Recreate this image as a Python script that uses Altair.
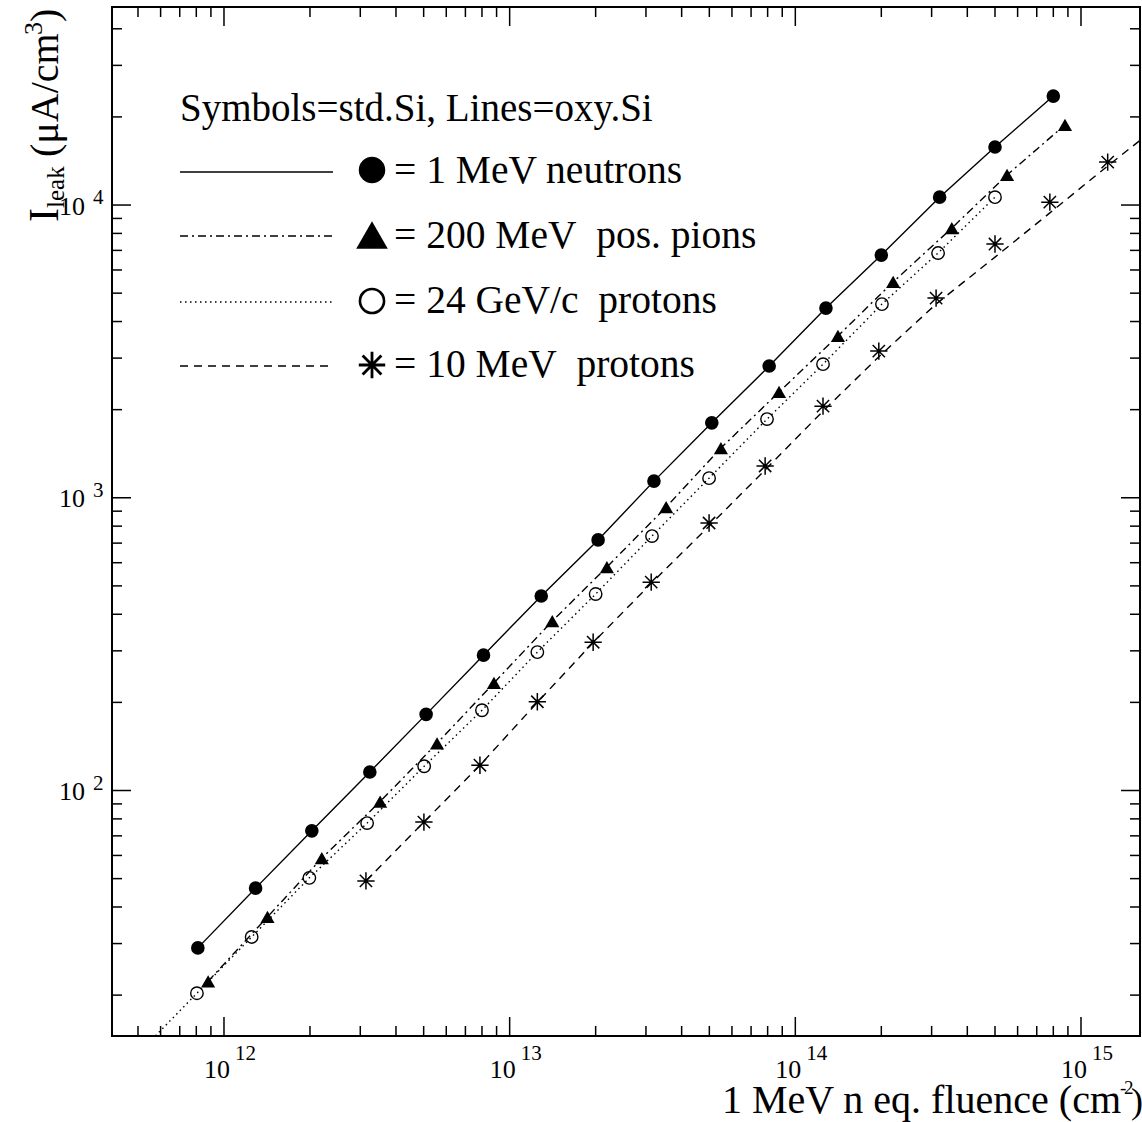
import altair as alt
import pandas as pd

W, H = 1028, 1029
FONT = "Liberation Serif"

# ---------------- data ----------------
# std. Si symbols
neut_x = [8.1e11, 1.29e12, 2.03e12, 3.24e12, 5.1e12, 8.1e12, 1.29e13, 2.04e13,
          3.2e13, 5.1e13, 8.1e13, 1.28e14, 2.0e14, 3.2e14, 5.0e14, 8.0e14]
neut_y = [29.0, 46.4, 72.8, 115.7, 182, 290, 462, 718,
          1140, 1803, 2818, 4446, 6745, 10640, 15780, 23560]

pion_x = [8.8e11, 1.42e12, 2.20e12, 3.52e12, 5.57e12, 8.81e12, 1.41e13, 2.19e13,
          3.53e13, 5.49e13, 8.77e13, 1.41e14, 2.20e14, 3.53e14, 5.51e14, 8.79e14]
pion_y = [22.3, 37.0, 58.7, 91.7, 145, 233, 379, 580,
          929, 1479, 2298, 3572, 5460, 8340, 12670, 18780]

p24_x = [8.04e11, 1.25e12, 1.99e12, 3.17e12, 5.02e12, 8.0e12, 1.25e13, 2.0e13,
         3.15e13, 4.99e13, 7.96e13, 1.25e14, 2.01e14, 3.16e14, 5.0e14]
p24_y = [20.3, 31.6, 50.3, 77.4, 121, 188, 297, 469,
         740, 1167, 1857, 2860, 4587, 6855, 10640]

p10_x = [3.14e12, 5.01e12, 7.87e12, 1.25e13, 1.96e13, 3.13e13, 4.99e13,
         7.84e13, 1.25e14, 1.96e14, 3.11e14, 5.0e14, 7.78e14, 1.24e15]
p10_y = [49.1, 78.0, 122, 201, 321, 515, 820,
         1284, 2056, 3170, 4810, 7360, 10230, 14020]

# oxy. Si lines
oxy_neut_x = [8.1e11, 1.29e12, 2.03e12, 3.24e12, 5.1e12, 8.1e12, 1.29e13, 2.04e13,
              3.2e13, 5.1e13, 8.1e13, 1.28e14, 2.0e14, 3.2e14, 5.0e14, 8.0e14]
oxy_neut_y = [29.0, 46.4, 72.8, 115.7, 182, 290, 462, 718,
              1140, 1803, 2818, 4446, 6745, 10640, 15780, 23560]

oxy_pion_x = [8.8e11, 1.42e12, 2.20e12, 3.52e12, 5.57e12, 8.81e12, 1.41e13, 2.19e13,
              3.53e13, 5.49e13, 8.77e13, 1.41e14, 2.20e14, 3.53e14, 5.51e14, 8.79e14]
oxy_pion_y = [22.3, 37.0, 58.7, 91.7, 145, 233, 379, 580,
              929, 1479, 2298, 3572, 5460, 8340, 12670, 18780]

oxy_p24_x = [5.0e11, 8.04e11, 1.25e12, 1.99e12, 3.17e12, 5.02e12, 8.0e12, 1.25e13,
             2.0e13, 3.15e13, 4.99e13, 7.96e13, 1.25e14, 2.01e14, 3.16e14, 5.0e14]
oxy_p24_y = [12.6, 20.3, 31.6, 50.3, 77.4, 121, 188, 297,
             469, 740, 1167, 1857, 2860, 4587, 6855, 10640]

oxy_p10_x = [3.14e12, 5.01e12, 7.87e12, 1.25e13, 1.96e13, 3.13e13, 4.99e13, 7.84e13,
             1.25e14, 1.96e14, 3.11e14, 5.0e14, 7.78e14, 1.24e15, 2.61e15]
oxy_p10_y = [49.1, 78.0, 122, 200, 320, 510, 800, 1245,
             1977, 3030, 4590, 6640, 9400, 13600, 24150]

# axis ticks and labels
x_major = [1e12, 1e13, 1e14, 1e15]
x_exp = ["12", "13", "14", "15"]
x_minor = [5e11, 6e11, 7e11, 8e11, 9e11,
           2e12, 3e12, 4e12, 5e12, 6e12, 7e12, 8e12, 9e12,
           2e13, 3e13, 4e13, 5e13, 6e13, 7e13, 8e13, 9e13,
           2e14, 3e14, 4e14, 5e14, 6e14, 7e14, 8e14, 9e14]
y_major = [1e2, 1e3, 1e4]
y_exp = ["2", "3", "4"]
y_minor = [20, 30, 40, 50, 60, 70, 80, 90,
           200, 300, 400, 500, 600, 700, 800, 900,
           2000, 3000, 4000, 5000, 6000, 7000, 8000, 9000,
           20000, 30000, 40000]

legend_head = "Symbols=std.Si, Lines=oxy.Si"
legend_text = ["= 1 MeV neutrons",
               "= 200 MeV\u00a0 pos. pions",
               "= 24 GeV/c\u00a0 protons",
               "= 10 MeV\u00a0 protons"]

# ---------------- scales ----------------
xs = alt.Scale(type="log", domain=[4.055e11, 1.609e15], nice=False)
ys = alt.Scale(type="log", domain=[14.5, 47480], nice=False)
X = alt.X("x:Q", scale=xs, axis=None)
Y = alt.Y("y:Q", scale=ys, axis=None)

STAR = "M0,-1L0,1M-1,0L1,0M-0.71,-0.71L0.71,0.71M-0.71,0.71L0.71,-0.71"
DASHDOT = [8, 4, 2, 4]
DOTTED = [1.5, 3.5]
DASHED = [8, 6]

def frame(x, y):
    return pd.DataFrame({"x": x, "y": y})

def line(x, y, dash=None, width=1.4):
    kw = dict(color="black", strokeWidth=width, clip=True)
    if dash:
        kw["strokeDash"] = dash
    return alt.Chart(frame(x, y)).mark_line(**kw).encode(x=X, y=Y)

def pts(x, y, **mk):
    return alt.Chart(frame(x, y)).mark_point(clip=True, color="black", opacity=1, **mk).encode(x=X, y=Y)

layers = []

# ticks (inward, on all four sides)
TW = 1.5
for vals, ln in ((x_major, 19), (x_minor, 10)):
    d = pd.DataFrame({"x": vals})
    layers.append(alt.Chart(d).mark_rule(color="black", strokeWidth=TW).encode(
        x=X, y=alt.value(H), y2=alt.value(H - ln)))
    layers.append(alt.Chart(d).mark_rule(color="black", strokeWidth=TW).encode(
        x=X, y=alt.value(0), y2=alt.value(ln)))
for vals, ln in ((y_major, 19), (y_minor, 10)):
    d = pd.DataFrame({"y": vals})
    layers.append(alt.Chart(d).mark_rule(color="black", strokeWidth=TW).encode(
        y=Y, x=alt.value(0), x2=alt.value(ln)))
    layers.append(alt.Chart(d).mark_rule(color="black", strokeWidth=TW).encode(
        y=Y, x=alt.value(W), x2=alt.value(W - ln)))

# tick labels 10^n
xl = pd.DataFrame({"x": x_major, "e": x_exp})
layers.append(alt.Chart(xl).mark_text(font=FONT, fontSize=26, align="center", baseline="alphabetic",
                                      dx=-7, text="10").encode(x=X, y=alt.value(1071)))
layers.append(alt.Chart(xl).mark_text(font=FONT, fontSize=21, align="left", baseline="alphabetic",
                                      dx=11).encode(x=X, y=alt.value(1053), text="e:N"))
yl = pd.DataFrame({"y": y_major, "e": y_exp})
layers.append(alt.Chart(yl).mark_text(font=FONT, fontSize=26, align="right", baseline="alphabetic",
                                      dy=9.5, text="10").encode(y=Y, x=alt.value(-27)))
layers.append(alt.Chart(yl).mark_text(font=FONT, fontSize=21, align="left", baseline="alphabetic",
                                      dy=-1).encode(y=Y, x=alt.value(-19), text="e:N"))

# oxy Si lines
layers.append(line(oxy_neut_x, oxy_neut_y))
layers.append(line(oxy_pion_x, oxy_pion_y, DASHDOT))
layers.append(line(oxy_p24_x, oxy_p24_y, DOTTED))
layers.append(line(oxy_p10_x, oxy_p10_y, DASHED))

# std Si symbols
layers.append(pts(neut_x, neut_y, shape="circle", filled=True, size=185))
layers.append(pts(pion_x, pion_y, shape="triangle-up", filled=True, size=200))
layers.append(pts(p24_x, p24_y, shape="circle", filled=False, size=155, strokeWidth=1.4))
layers.append(pts(p10_x, p10_y, shape=STAR, filled=False, size=300, strokeWidth=1.5))

# axis titles
one = pd.DataFrame({"a": [0]})
def txt(s, x, y, size, align="left", angle=0):
    kw = dict(font=FONT, fontSize=size, align=align, baseline="alphabetic", text=s, color="black")
    if angle:
        kw["angle"] = angle
    return alt.Chart(one).mark_text(**kw).encode(x=alt.value(x), y=alt.value(y))

layers.append(txt("1 MeV n eq. fluence (cm", 1009, 1106, 40, align="right"))
layers.append(txt("-", 1008, 1087, 19))
layers.append(txt("2", 1012, 1087, 19))
layers.append(txt(")", 1019, 1106, 36))

layers.append(txt("I", -54, 215, 42, angle=270))
layers.append(txt("leak", -48, 201, 25, angle=270))
layers.append(txt("(\u03bcA/cm", -54, 150, 40, angle=270))
layers.append(txt("3", -70, 28, 26, angle=270))
layers.append(txt(")", -54, 15, 40, angle=270))

# legend
layers.append(txt(legend_head, 68, 114, 39))
row_line_y = [165, 229, 295, 359]
row_sym_y = [163, 228, 294, 358]
row_txt_y = [176, 241, 306, 370]
dashes = [None, DASHDOT, DOTTED, DASHED]
syms = [dict(shape="circle", filled=True, size=700),
        dict(shape="triangle-up", filled=True, size=1000),
        dict(shape="circle", filled=False, size=580, strokeWidth=2.6),
        dict(shape=STAR, filled=False, size=700, strokeWidth=2.8)]
for i in range(4):
    kw = dict(color="black", strokeWidth=1.4)
    if dashes[i]:
        kw["strokeDash"] = dashes[i]
    layers.append(alt.Chart(one).mark_rule(**kw).encode(
        x=alt.value(68), x2=alt.value(221), y=alt.value(row_line_y[i])))
    layers.append(alt.Chart(one).mark_point(color="black", opacity=1, **syms[i]).encode(
        x=alt.value(260), y=alt.value(row_sym_y[i])))
    layers.append(txt(legend_text[i], 282, row_txt_y[i], 39.5))

chart = alt.layer(*layers).properties(
    width=W, height=H,
    autosize=alt.AutoSizeParams(type="none"),
    padding={"left": 112, "top": 7, "right": 2, "bottom": 86},
    background="white",
).configure_view(stroke="black", strokeWidth=2)

chart.save("out.html", embed_options={"renderer": "svg", "actions": False})
